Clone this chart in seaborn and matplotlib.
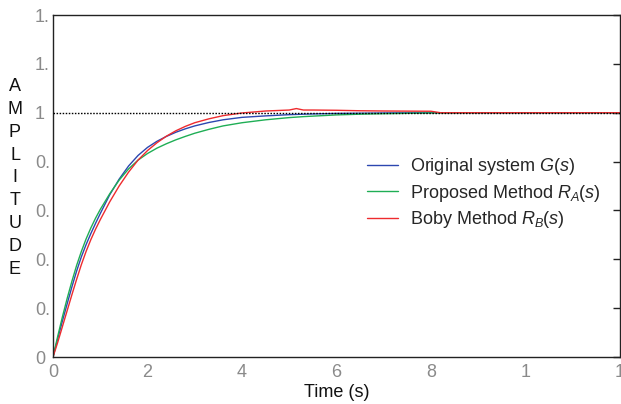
import numpy as np
import pandas as pd
import matplotlib
matplotlib.use("Agg")
import matplotlib.pyplot as plt
import seaborn as sns

# Step responses of the original system and the two reduced models
time_s = [0, 0.1, 0.2, 0.3, 0.4, 0.5, 0.6, 0.7, 0.8, 0.9, 1.0, 1.2, 1.4,
          1.6, 1.8, 2.0, 2.2, 2.4, 2.6, 2.8, 3.0, 3.3, 3.6, 4.0, 4.5, 5.0,
          5.15, 5.3, 5.5, 6.0, 6.5, 7.0, 8.0, 8.2, 9.0, 10.0, 11.0, 12.0]
original_g = [0, 0.075, 0.148, 0.218, 0.287, 0.352, 0.41, 0.46, 0.505,
              0.547, 0.587, 0.664, 0.728, 0.782, 0.825, 0.858, 0.883, 0.903,
              0.92, 0.934, 0.946, 0.96, 0.971, 0.981, 0.987, 0.992, 0.993,
              0.994, 0.995, 0.997, 0.998, 0.999, 1.0, 1.0, 1.0, 1.0, 1.0, 1.0]
proposed_ra = [0, 0.085, 0.165, 0.24, 0.31, 0.375, 0.432, 0.483, 0.528,
               0.568, 0.604, 0.668, 0.724, 0.77, 0.806, 0.833, 0.855, 0.873,
               0.889, 0.903, 0.916, 0.932, 0.946, 0.959, 0.971, 0.98, 0.982,
               0.984, 0.986, 0.991, 0.994, 0.996, 0.999, 0.999, 1.0, 1.0,
               1.0, 1.0]
boby_rb = [0, 0.06, 0.125, 0.19, 0.255, 0.318, 0.378, 0.432, 0.48, 0.523,
           0.562, 0.635, 0.70, 0.757, 0.806, 0.845, 0.877, 0.904, 0.926,
           0.944, 0.959, 0.975, 0.988, 0.999, 1.007, 1.011, 1.017, 1.011,
           1.011, 1.010, 1.008, 1.007, 1.006, 1.0, 1.0, 1.0, 1.0, 1.0]

series_names = ["Original system $G$($s$)",
                "Proposed Method $R_A$($s$)",
                "Boby Method $R_B$($s$)"]
series_colors = ["#2c47b0", "#1fae55", "#ee2b2e"]

y_ticks = [0, 0.2, 0.4, 0.6, 0.8, 1.0, 1.2, 1.4]
y_tick_labels = ["0", "0.", "0.", "0.", "0.", "1", "1.", "1."]
x_ticks = [0, 2, 4, 6, 8, 10, 12]
x_tick_labels = ["0", "2", "4", "6", "8", "1", "1"]

frames = []
for name, vals in zip(series_names, [original_g, proposed_ra, boby_rb]):
    frames.append(pd.DataFrame({"t": time_s, "y": vals, "model": name}))
df = pd.concat(frames, ignore_index=True)

sns.set_style("white")
plt.rcParams["font.family"] = ["Liberation Sans", "DejaVu Sans"]
plt.rcParams["mathtext.fontset"] = "custom"
plt.rcParams["mathtext.rm"] = "Liberation Sans"
plt.rcParams["mathtext.it"] = "Liberation Sans:italic"

FS = 13

fig = plt.figure(figsize=(6.21, 4.04), dpi=100)
ax = fig.add_axes([53 / 621, 1 - 357 / 404, 567 / 621, 342 / 404])

sns.lineplot(data=df, x="t", y="y", hue="model", hue_order=series_names,
             palette=series_colors, linewidth=1.0, legend=False, ax=ax,
             estimator=None, sort=False)

# reference level
ax.plot([0, 12], [1, 1], color="black", linestyle=(0, (1.1, 1.1)),
        linewidth=1.0, zorder=5)

ax.set_xlim(0, 12)
ax.set_ylim(0, 1.4)
ax.set_xticks(x_ticks)
ax.set_xticklabels(x_tick_labels)
ax.set_yticks(y_ticks)
ax.set_yticklabels(y_tick_labels, ha="left")
ax.tick_params(direction="in", length=5, width=1, colors="#222222",
               labelcolor="#8a8a8a", labelsize=FS, right=True, top=False)
ax.tick_params(axis="y", pad=13)
ax.tick_params(axis="x", pad=5)
for side in ["left", "bottom", "top", "right"]:
    ax.spines[side].set_visible(True)
    ax.spines[side].set_color("#222222")
    ax.spines[side].set_linewidth(1.0)

ax.set_ylabel("")
ax.set_xlabel("Time (s)", fontsize=FS, color="#111111", labelpad=2)
fig.text(15 / 621, 1 - 178 / 404, "\n".join("AMPLITUDE"), fontsize=FS,
         color="#111111", linespacing=1.46, va="center", ha="center")

handles = ax.get_lines()[:3]
ax.legend(handles, series_names, loc="upper left",
          bbox_to_anchor=(360 / 621, 1 - 149 / 404),
          bbox_transform=fig.transFigure, frameon=False, fontsize=FS,
          handlelength=1.72, handletextpad=0.67, labelspacing=0.3,
          borderaxespad=0)

fig.savefig("out.png", dpi=100)
